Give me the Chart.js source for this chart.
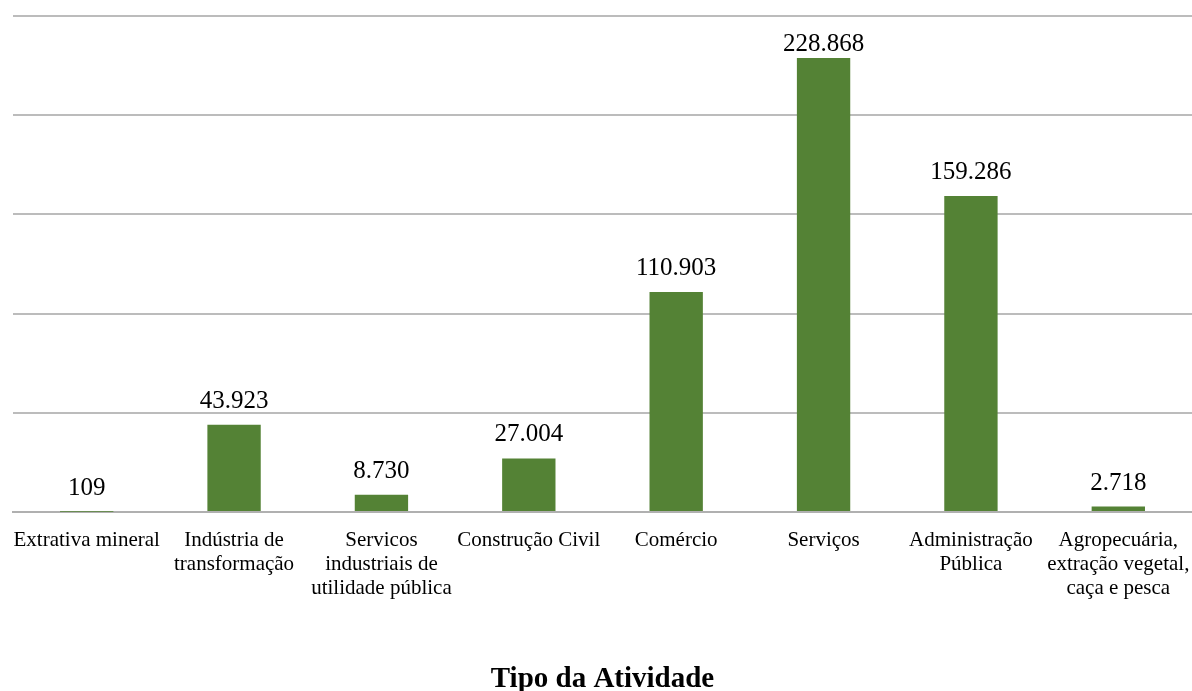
<!DOCTYPE html>
<html>
<head>
<meta charset="utf-8">
<script src="https://cdn.jsdelivr.net/npm/chart.js@4/dist/chart.umd.min.js"></script>
<style>
  html, body { margin: 0; padding: 0; background: #fff; }
  #wrap { width: 1192px; height: 691px; }
</style>
</head>
<body>
<div id="wrap"><canvas id="myChart"></canvas></div>
<script>
// categories (multi-line labels as shown under each bar)
const categories = [
  ['Extrativa mineral'],
  ['Indústria de', 'transformação'],
  ['Servicos', 'industriais de', 'utilidade pública'],
  ['Construção Civil'],
  ['Comércio'],
  ['Serviços'],
  ['Administração', 'Pública'],
  ['Agropecuária,', 'extração vegetal,', 'caça e pesca']
];
const workers = [109, 43923, 8730, 27004, 110903, 228868, 159286, 2718];
const axisTitle = 'Tipo da Atividade';

const serif = '"Liberation Serif", "Times New Roman", serif';

// format with dot as thousands separator
function fmt(v) {
  return String(v).replace(/\B(?=(\d{3})+(?!\d))/g, '.');
}

// draws value labels above every bar (kept inside the plot area, like Excel does)
const valueLabels = {
  id: 'valueLabels',
  afterDatasetsDraw(chart) {
    const ctx = chart.ctx;
    const meta = chart.getDatasetMeta(0);
    ctx.save();
    ctx.font = '25px ' + serif;
    ctx.fillStyle = '#000';
    ctx.textAlign = 'center';
    ctx.textBaseline = 'alphabetic';
    meta.data.forEach((bar, i) => {
      const y = Math.max(bar.y - 17, chart.chartArea.top + 35);
      ctx.fillText(fmt(chart.data.datasets[0].data[i]), bar.x, y);
    });
    ctx.restore();
  }
};

const ctx = document.getElementById('myChart').getContext('2d');
new Chart(ctx, {
  type: 'bar',
  data: {
    labels: categories,
    datasets: [{
      data: workers,
      backgroundColor: '#548235',
      categoryPercentage: 1,
      barPercentage: 0.362
    }]
  },
  options: {
    responsive: true,
    maintainAspectRatio: false,
    animation: false,
    layout: { padding: { top: 16, left: 0, right: 0, bottom: 0 } },
    plugins: {
      legend: { display: false },
      tooltip: { enabled: false }
    },
    scales: {
      x: {
        grid: { display: false, drawTicks: false },
        border: { display: true, color: '#b0b0b0', width: 2 },
        ticks: {
          color: '#000',
          maxRotation: 0,
          autoSkip: false,
          padding: 16,
          font: { family: serif, size: 21, lineHeight: 1.143 }
        },
        title: {
          display: true,
          text: axisTitle,
          color: '#000',
          padding: 0,
          font: { family: serif, size: 29, weight: 'bold', lineHeight: 0.8 }
        },
        afterFit(scale) {
          scale.height = 179;
          // let the last label run off the edge instead of shrinking the plot
          scale.paddingLeft = 0;
          scale.paddingRight = 0;
        }
      },
      y: {
        min: 0,
        max: 250000,
        ticks: { display: false, stepSize: 50000 },
        border: { display: false },
        grid: { color: '#bcbcbc', lineWidth: 2, drawTicks: false },
        afterFit(scale) { scale.width = 13; }
      }
    }
  },
  plugins: [valueLabels]
});
</script>
</body>
</html>
